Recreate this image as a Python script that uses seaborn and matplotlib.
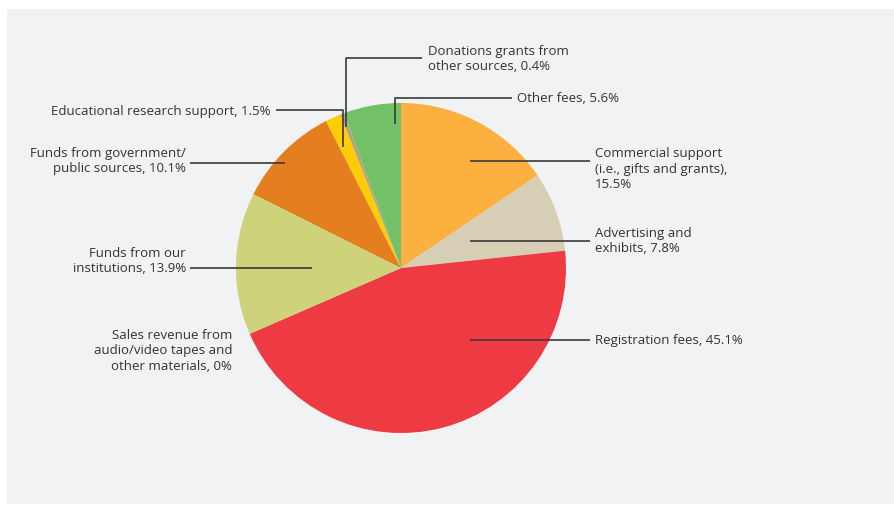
import matplotlib
matplotlib.use('Agg')
import matplotlib.pyplot as plt
import seaborn as sns

# Revenue sources, clockwise from 12 o'clock
labels = ['Commercial support\n(i.e., gifts and grants),\n15.5%',
          'Advertising and\nexhibits, 7.8%',
          'Registration fees, 45.1%',
          'Sales revenue from\naudio/video tapes and\nother materials, 0%',
          'Funds from our\ninstitutions, 13.9%',
          'Funds from government/\npublic sources, 10.1%',
          'Educational research support, 1.5%',
          'Donations grants from\nother sources, 0.4%',
          'Other fees, 5.6%']
shares = [15.5, 7.8, 45.1, 0.0, 13.9, 10.1, 1.5, 0.4, 5.6]
colors = ['#FBB040', '#D6CFB6', '#EE3A43', '#8C8C8C', '#CDD27B',
          '#E57E1E', '#FFCC06', '#B1A580', '#72C167']

sns.set_style('white')
plt.rcParams['font.family'] = ['Open Sans', 'DejaVu Sans']

R = 165.0   # pie radius in pixels
CX, CY = 401.0, 269.0


def px(x, y):
    # pixel position in the picture -> data units around the pie centre
    return (x - CX) / R, (CY - y) / R


fig = plt.figure(figsize=(8.94, 5.06), dpi=100, facecolor='white')
ax = fig.add_axes([7 / 894, 1 / 506, 887 / 894, 495 / 506])
ax.set_facecolor('#F1F2F4')
ax.pie(shares, colors=colors, startangle=90, counterclock=False, radius=1,
       wedgeprops=dict(linewidth=0))
x0, y0 = px(7, 505)
x1, y1 = px(894, 10)
ax.set_xlim(x0, x1)
ax.set_ylim(y0, y1)
ax.set_aspect('equal')
ax.axis('off')
ax.add_patch(plt.Rectangle((x0, y0), x1 - x0, y1 - y0, color='#F1F2F4', zorder=-5))

# leader lines (pixel layout) and label anchors
layout = [
    ([(470, 162), (590, 162)], (595, 169), 'left'),
    ([(470, 242), (590, 242)], (595, 241), 'left'),
    ([(470, 341), (590, 341)], (595, 341), 'left'),
    (None, (232, 351), 'right'),
    ([(312, 269), (190, 269)], (186, 261), 'right'),
    ([(285, 164), (190, 164)], (186, 161), 'right'),
    ([(343, 148), (343, 111), (276, 111)], (270, 111), 'right'),
    ([(346, 128), (346, 59), (422, 59)], (428, 59), 'left'),
    ([(395, 125), (395, 99), (512, 99)], (517, 99), 'left'),
]

for lab, (pts, tpos, ha) in zip(labels, layout):
    if pts is not None:
        xs, ys = zip(*[px(*p) for p in pts])
        ax.plot(xs, ys, color='#3A3A3A', lw=1.2, solid_capstyle='butt')
    tx, ty = px(*tpos)
    ax.text(tx, ty, lab, ha=ha, va='center', fontsize=9.5, color='#333333',
            linespacing=1.25, multialignment=ha)

fig.savefig('out.png', dpi=100, facecolor='white')
